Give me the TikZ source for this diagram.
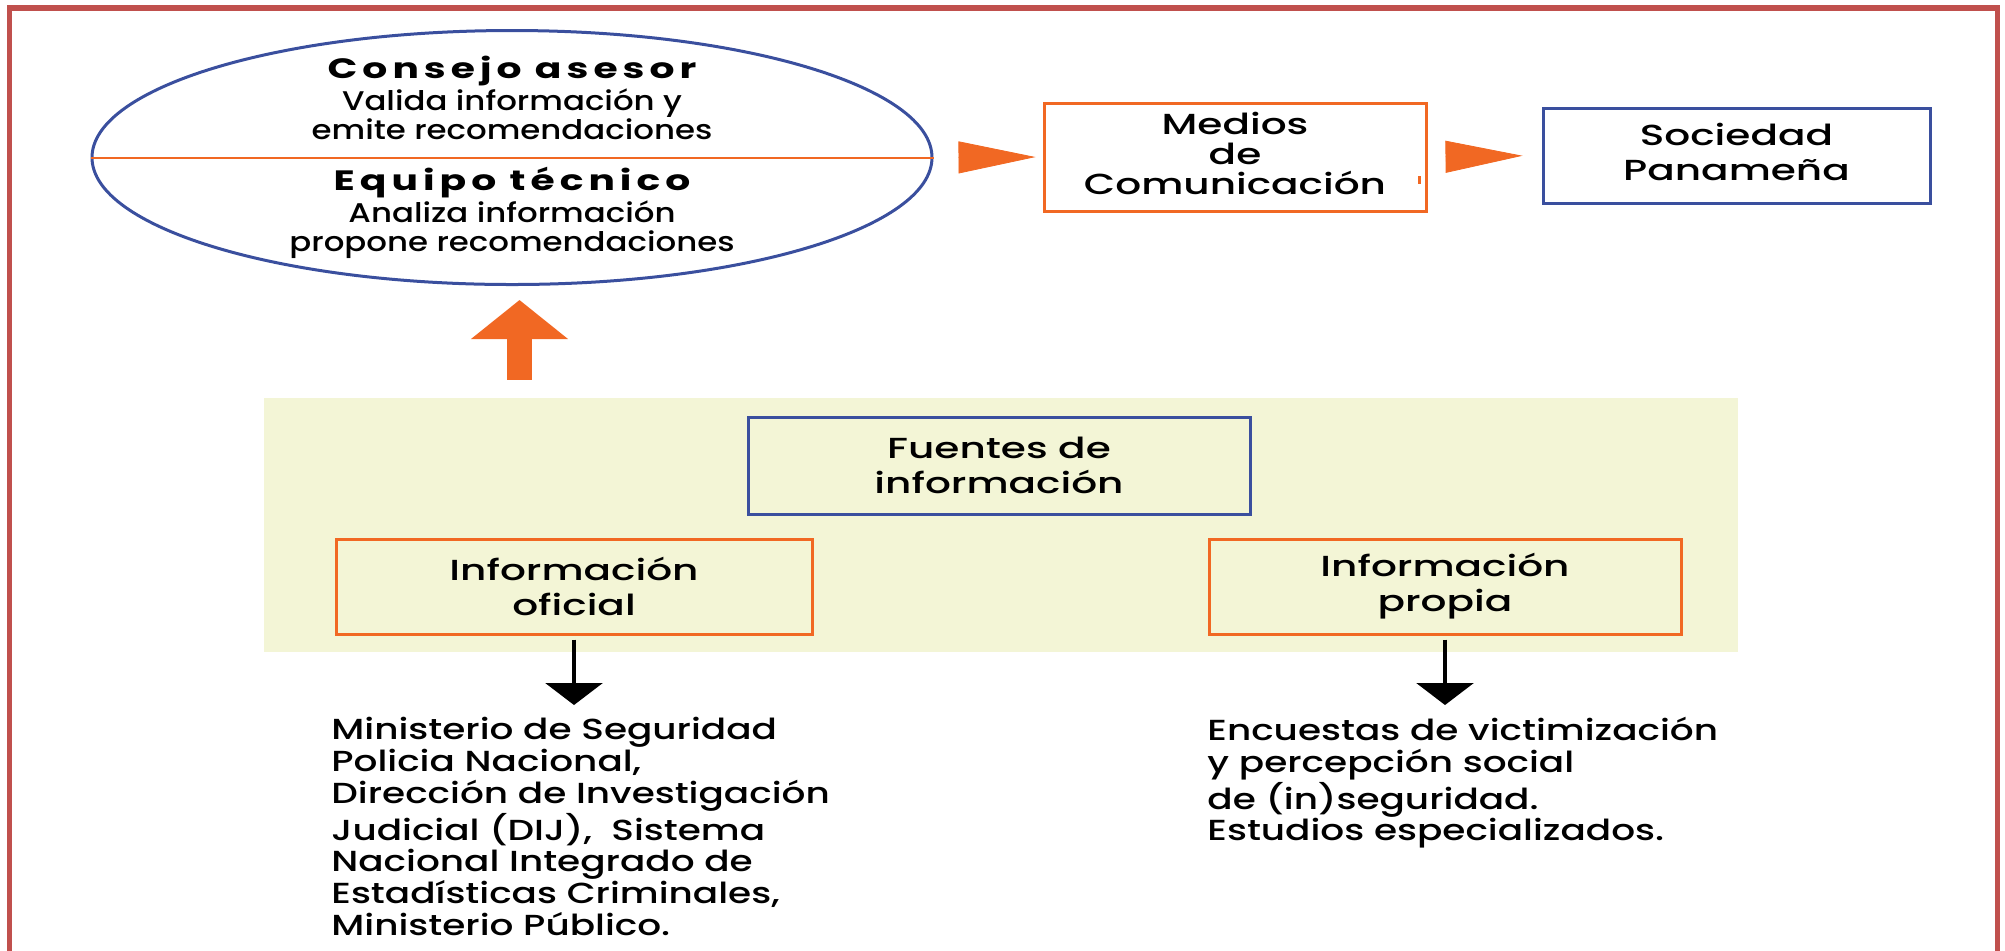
\documentclass[tikz,border=0pt]{standalone}
\usepackage{fontspec}
\setmainfont[FakeStretch=1.4]{Poppins}
\newfontfamily\famhead[FakeStretch=1.4, LetterSpace=18]{Poppins Bold}
\newfontfamily\fammed[FakeStretch=1.4]{Poppins Medium}
\newfontfamily\famnote[FakeStretch=1.2]{Poppins Medium}
\newfontfamily\famlist[FakeStretch=1.29]{Poppins Medium}
\usepackage{tikz}
\usetikzlibrary{positioning, shapes.geometric, arrows.meta}
\usepackage{xcolor}
\definecolor{framered}{RGB}{192,80,77}
\definecolor{accent}{RGB}{241,104,35}
\definecolor{navy}{RGB}{58,79,158}
\definecolor{cream}{RGB}{243,245,214}

\newcommand{\txttitle}{\famhead\fontsize{14}{15}\selectfont}
\newcommand{\txtnote}{\famnote\fontsize{13.5}{14.5}\selectfont}
\newcommand{\txtbox}{\fammed\fontsize{14.5}{17.5}\selectfont}
\newcommand{\txtlist}{\famlist\fontsize{14.5}{15.85}\selectfont}

\begin{document}
\begin{tikzpicture}[x=0.5pt, y=-0.5pt, inner sep=0pt,
  orangebox/.style={rectangle, draw=accent, line width=1.5pt, align=center, font=\txtbox},
  bluebox/.style={rectangle, draw=navy, line width=1.5pt, align=center, font=\txtbox},
  heading/.style={font=\txttitle},
  note/.style={align=center, font=\txtnote},
  sourcelist/.style={align=left, font=\txtlist},
  flowtip/.style={accent, -{Triangle[length=38.5pt, width=16pt]}},
  pointer/.style={line width=1.6pt, -{Triangle[length=11pt, width=28.5pt]}}]

\useasboundingbox (0,0) rectangle (2005,950);

%%% FRAME
\draw[framered, line width=2.75pt] (9.5,8) rectangle (1997.5,1000);

%%% ADVISORY PANEL
\node[ellipse, draw=navy, line width=1.5pt, minimum width=420pt, minimum height=127pt] (panel) at (512,157.5) {};
\draw[accent, line width=1pt] (panel.west) -- (panel.east);
\node[heading, anchor=base] (council) at (512,78) {Consejo asesor};
\node[note, below=1.5pt of council] (council-sub) {Valida información y\\ emite recomendaciones};
\node[heading, anchor=base] (team) at (512,190) {Equipo técnico};
\node[note, below=1.5pt of team] (team-sub) {Analiza información\\ propone recomendaciones};

%%% MEDIA AND SOCIETY
\node[orangebox, minimum width=191pt, minimum height=54pt, font=\fammed\fontsize{14.5}{15}\selectfont] (media) at (1235,157) {Medios\\ de\\ Comunicación\vphantom{g}};
\node[bluebox, minimum width=193.5pt, minimum height=47.5pt] (society) at (1736.5,155.5) {Sociedad\\ Panameña\vphantom{g}};
\draw[accent, line width=1.5pt] ([xshift=-4pt, yshift=-9.5pt]media.east) -- ++(0,8);

%%% SOURCES
\node[fill=cream, minimum width=737pt, minimum height=127pt] (sources) at (1001,525) {};
\node[bluebox, minimum width=251pt, minimum height=48.5pt] (fuentes) at (999,465.5) {Fuentes de\\ información};
\node[orangebox, minimum width=238pt, minimum height=47.5pt] (official) at (574,586.5) {Información\\ oficial};
\node[orangebox, minimum width=236pt, minimum height=47.5pt] (own) at (1445,586.5) {Información\\ propia};

%%% LISTS
\node[sourcelist, anchor=north west] (official-list) at (331,717) {Ministerio de Seguridad\\ Policia Nacional,\\ Dirección de Investigación\\ Judicial (DIJ),\ \ Sistema\\ Nacional Integrado de\\ Estadísticas Criminales,\\ Ministerio Público.};
\node[sourcelist, anchor=north west] (own-list) at (1207,717) {Encuestas de victimización\\ y percepción social\\ de (in)seguridad.\\ Estudios especializados.};

%%% arrows
\coordinate (lift) at ([xshift=3.75pt]panel.south);
\draw[flowtip, shorten <=14pt, shorten >=3.5pt] (panel.east) -- (media.west);
\draw[flowtip, shorten <=10.5pt, shorten >=9.5pt] (media.east) -- (society.west);
\draw[accent, line width=12.5pt, -{Triangle[length=19.5pt, width=47.5pt]}, shorten <=9pt, shorten >=7pt] (lift |- sources.north) -- (lift);
\draw[pointer, shorten <=2pt, shorten >=6pt] (official.south) -- (official.south |- official-list.north);
\draw[pointer, shorten <=2pt, shorten >=6pt] (own.south) -- (own.south |- own-list.north);

\end{tikzpicture}
\end{document}
